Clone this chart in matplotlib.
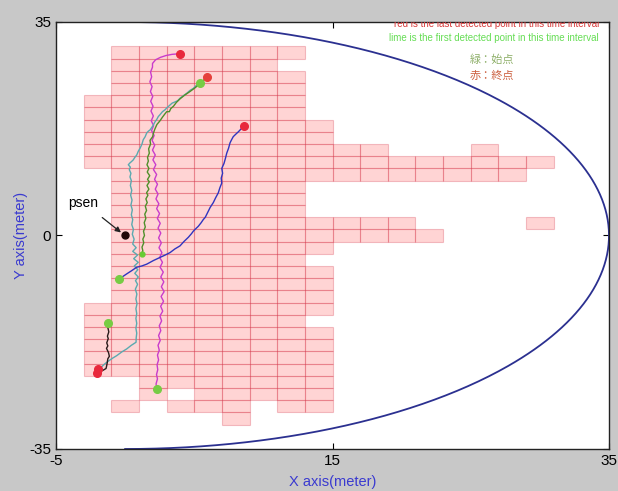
import numpy as np
import matplotlib
matplotlib.use("Agg")
import matplotlib.pyplot as plt
from matplotlib.patches import Rectangle

plt.rcParams['font.family'] = ['Liberation Sans', 'Noto Sans CJK JP', 'DejaVu Sans']
plt.rcParams['axes.unicode_minus'] = False

# grid cells: (column centre x, lowest row centre y, highest row centre y), 2 m cells
cell_runs = [
    (-2, 12, 22), (-2, -22, -12),
    (0, -22, 30), (0, -28, -28),
    (2, -26, 30),
    (4, -24, 30), (4, -28, -28),
    (6, -28, 30),
    (8, -30, 30),
    (10, -26, 30),
    (12, 30, 30), (12, -28, 26),
    (14, 10, 18), (14, -2, 2), (14, -12, -6), (14, -28, -16),
    (16, 10, 14), (16, 0, 2),
    (18, 10, 14), (18, 0, 2),
    (20, 10, 12), (20, 0, 2),
    (22, 10, 12), (22, 0, 0),
    (24, 10, 12),
    (26, 10, 14),
    (28, 10, 12),
    (30, 12, 12), (30, 2, 2),
]
cell_size = 2.0
radius = 35.0

# trajectories
magenta_y = [-25.1, -24.3, -23.5, -22.8, -22.0, -21.2, -20.4, -19.6, -18.8, -18.0,
             -17.2, -16.4, -15.6, -14.8, -14.0, -13.2, -12.4, -11.6, -10.8, -10.0,
             -9.2, -8.4, -7.6, -6.8, -6.0, -5.2, -4.4, -3.6, -2.8, -2.0,
             -1.2, -0.4, 0.4, 1.2, 2.0, 2.8, 3.6, 4.4, 5.2, 6.0,
             6.8, 7.6, 8.4, 9.2, 10.0, 10.8, 11.6, 12.4, 13.2, 14.0,
             14.8, 15.6, 16.4, 17.2, 18.0, 18.8, 19.6, 20.4, 21.2, 22.0,
             22.8, 23.6, 24.4, 25.2, 26.0, 26.8, 27.6, 28.2, 28.8, 29.2,
             29.5, 29.7, 29.8]
magenta_x = [2.28, 2.24, 2.34, 2.27, 2.36, 2.31, 2.42, 2.34, 2.47, 2.38,
             2.54, 2.42, 2.58, 2.47, 2.64, 2.52, 2.72, 2.57, 2.78, 2.60,
             2.82, 2.62, 2.80, 2.58, 2.76, 2.53, 2.70, 2.50, 2.66, 2.45,
             2.62, 2.42, 2.58, 2.38, 2.54, 2.33, 2.49, 2.28, 2.44, 2.23,
             2.38, 2.18, 2.34, 2.13, 2.28, 2.05, 2.22, 2.01, 2.18, 1.98,
             2.14, 1.95, 2.10, 1.91, 2.06, 1.89, 2.04, 1.87, 2.02, 1.85,
             2.00, 1.83, 1.95, 1.79, 1.92, 1.84, 1.98, 1.98, 2.20, 2.55,
             2.95, 3.40, 3.97]

teal_x = [5.42, 5.15, 4.93, 4.70, 4.45, 4.20, 3.97, 3.80, 3.61, 3.40,
          3.25, 3.05, 2.88, 2.70, 2.52, 2.40, 2.28, 2.15, 2.04, 1.92,
          1.80, 1.68, 1.56, 1.45, 1.31, 1.22, 1.08, 0.95, 0.84, 0.70,
          0.59, 0.45, 0.35, 0.23, 0.38, 0.30, 0.42, 0.35, 0.45, 0.38,
          0.48, 0.40, 0.50, 0.42, 0.52, 0.45, 0.55, 0.48, 0.60, 0.52,
          0.65, 0.55, 0.80, 0.55, 0.90, 0.62, 0.95, 0.66, 0.92, 0.70,
          0.95, 0.75, 0.90, 0.74, 0.85, 0.78, 0.86, 0.78, 0.84, 0.78,
          0.84, 0.78, 0.84, 0.80, 0.79, 0.45, 0.11, -0.25, -0.61, -0.90,
          -1.22, -1.45, -1.69, -1.94]
teal_y = [25.0, 24.6, 24.1, 23.8, 23.3, 22.9, 22.5, 22.1, 21.9, 21.7,
          21.4, 21.0, 20.6, 20.3, 19.8, 19.5, 19.0, 18.6, 18.1, 17.7,
          17.3, 17.1, 16.8, 16.2, 15.7, 15.0, 14.3, 13.8, 13.2, 12.8,
          12.4, 12.1, 11.9, 11.6, 11.2, 10.8, 10.2, 9.6, 9.0, 8.2,
          7.4, 6.6, 5.8, 5.0, 4.2, 3.4, 2.6, 1.8, 1.0, 0.2,
          -0.6, -1.4, -2.0, -2.6, -3.2, -3.8, -4.4, -5.0, -5.6, -6.2,
          -6.8, -7.4, -8.0, -8.8, -9.6, -10.4, -11.2, -12.0, -12.8, -13.6,
          -14.4, -15.2, -16.0, -16.8, -17.5, -18.0, -18.6, -19.1, -19.7, -20.1,
          -20.6, -21.0, -21.5, -21.9]

olive_x = [1.20, 1.28, 1.22, 1.35, 1.28, 1.40, 1.33, 1.46, 1.38, 1.50,
           1.42, 1.55, 1.46, 1.60, 1.50, 1.65, 1.55, 1.72, 1.58, 1.75,
           1.62, 1.78, 1.60, 1.72, 1.58, 1.68, 1.62, 1.75, 1.70, 1.84,
           1.80, 1.99, 2.05, 2.16, 2.30, 2.52, 2.70, 2.90, 3.01, 3.20,
           3.30, 3.50, 3.70, 3.97, 4.30, 4.69, 5.05, 5.42, 5.70, 5.90]
olive_y = [-3.1, -2.5, -1.9, -1.2, -0.6, 0.0, 0.7, 1.4, 2.1, 2.8,
           3.5, 4.1, 4.8, 5.4, 6.0, 6.6, 7.0, 7.6, 8.2, 8.8,
           9.2, 9.8, 10.4, 11.0, 11.6, 12.2, 12.8, 13.5, 14.2, 15.0,
           15.6, 16.2, 16.8, 17.5, 18.2, 18.8, 19.4, 20.0, 20.3, 20.3,
           20.8, 21.2, 21.8, 22.4, 23.0, 23.6, 24.2, 24.9, 25.5, 26.0]

blue_x = [-0.42, -0.15, 0.11, 0.45, 0.84, 1.20, 1.56, 2.05, 2.52, 2.90,
          3.25, 3.60, 3.97, 4.25, 4.57, 4.80, 4.93, 5.15, 5.29, 5.50,
          5.65, 5.80, 6.02, 6.15, 6.38, 6.55, 6.74, 6.85, 6.99, 6.95,
          7.05, 6.99, 7.15, 7.25, 7.35, 7.48, 7.59, 7.70, 7.82, 8.00,
          8.19, 8.40, 8.62]
blue_y = [-7.1, -6.7, -6.3, -5.8, -5.2, -5.0, -4.7, -4.1, -3.6, -3.2,
          -2.8, -2.2, -1.7, -1.0, -0.3, 0.3, 0.7, 1.2, 1.5, 2.1,
          2.6, 3.0, 4.0, 4.6, 5.4, 6.2, 7.0, 7.8, 8.6, 9.4,
          10.2, 11.0, 11.8, 12.6, 13.5, 14.3, 15.2, 15.7, 16.2, 16.6,
          17.0, 17.5, 18.0]

black_x = [-1.22, -1.26, -1.18, -1.28, -1.22, -1.33, -1.25, -1.35, -1.20, -1.14,
           -1.25, -1.29, -1.33, -1.38, -1.60, -1.82, -2.06]
black_y = [-14.3, -15.0, -15.8, -16.5, -16.9, -17.6, -18.1, -18.5, -19.2, -19.8,
           -20.2, -20.8, -21.3, -21.8, -22.1, -22.3, -22.6]

psen_xy = (0.0, 0.0)

fig = plt.figure(figsize=(6.18, 4.91), dpi=100, facecolor='#c8c8c8')
ax = fig.add_axes([56 / 618, 42 / 491, 553 / 618, 427 / 491])
ax.set_facecolor('white')

# grid of cells
for cx, lo, hi in cell_runs:
    for cy in np.arange(lo, hi + 1, cell_size):
        ax.add_patch(Rectangle((cx - cell_size / 2, cy - cell_size / 2), cell_size, cell_size,
                               facecolor=(1, 0, 0, 0.17), edgecolor=(0.8, 0.1, 0.2, 0.25),
                               linewidth=0.8, zorder=1))

# boundary (half circle)
t = np.linspace(-np.pi / 2, np.pi / 2, 400)
ax.plot(radius * np.cos(t), radius * np.sin(t), color='#2b3090', lw=1.3, zorder=2)

tracks = [
    (magenta_x, magenta_y, '#c93ccc'),
    (teal_x, teal_y, '#5aaab0'),
    (olive_x, olive_y, '#4f8f2a'),
    (blue_x, blue_y, '#2f35c0'),
    (black_x, black_y, '#2a1a1a'),
]
for xs, ys, col in tracks:
    ax.plot(xs, ys, color=col, lw=1.0, zorder=3)

# start (lime) / end (red) points
for xs, ys, col in tracks:
    if col == '#4f8f2a':
        ax.plot(xs[0], ys[0], 'o', color='#66cc33', ms=3.5, zorder=4)
        ax.plot(xs[-1], ys[-1], 'o', color='#e5403a', ms=5.5, zorder=4)
    else:
        ax.plot(xs[0], ys[0], 'o', color='#77cc44', ms=5.5, zorder=4)
        ax.plot(xs[-1], ys[-1], 'o', color='#e8283c', ms=5.5, zorder=4)

ax.plot(*psen_xy, 'o', color='#200808', ms=5, zorder=5)
ax.annotate('psen', xy=(-0.3, 0.5), xytext=(-4.1, 5.4), fontsize=10, va='center',
            arrowprops=dict(arrowstyle='-|>', color='#222222', lw=0.9,
                            shrinkA=6, shrinkB=0, mutation_scale=8), zorder=5)

ax.text(26.9, 34.6, 'red is the last detected point in this time interval',
        color='#d83a3a', fontsize=7, ha='center', va='center', clip_on=True)
ax.text(26.7, 32.3, 'lime is the first detected point in this time interval',
        color='#66dd55', fontsize=7, ha='center', va='center')
ax.text(24.9, 28.9, '緑：始点', color='#8fb06a', fontsize=8, va='center',
        family=['Noto Sans CJK JP', 'DejaVu Sans'])
ax.text(24.9, 26.1, '赤：終点', color='#cc6040', fontsize=8, va='center',
        family=['Noto Sans CJK JP', 'DejaVu Sans'])

ax.set_xlim(-5, 35)
ax.set_ylim(-35, 35)
ax.set_xticks([-5, 15, 35])
ax.set_yticks([-35, 0, 35])
ax.tick_params(direction='in', top=True, right=True, length=4, labelsize=11, colors='black')
for s in ax.spines.values():
    s.set_color('#222222')
    s.set_linewidth(1.0)

ax.set_xlabel('X axis(meter)', color='#3a3ad0', fontsize=10.5, labelpad=5)
ax.set_ylabel('Y axis(meter)', color='#3a3ad0', fontsize=10.5, labelpad=1)

fig.savefig('out.png', dpi=100, facecolor=fig.get_facecolor())
